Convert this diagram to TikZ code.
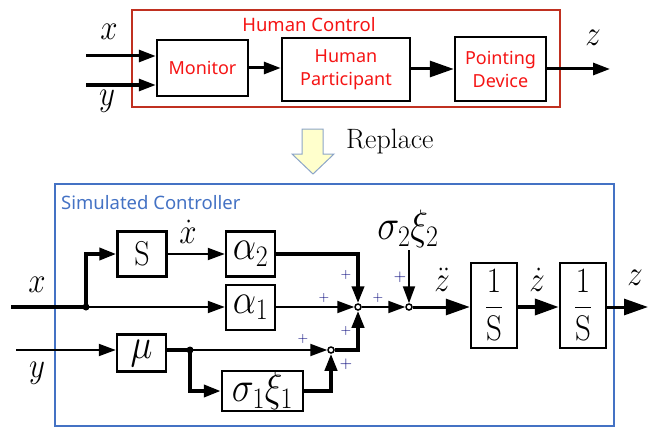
\RequirePackage{fix-cm}
\documentclass[tikz,border=0pt]{standalone}
\usepackage{fontspec}
\setsansfont{Noto Sans}
\usetikzlibrary{arrows.meta}
\definecolor{hred}{RGB}{192,48,32}
\definecolor{tred}{RGB}{245,20,20}
\definecolor{sblue}{RGB}{68,114,196}
\definecolor{pblue}{RGB}{0,0,120}
\definecolor{ayel}{RGB}{255,255,204}
\definecolor{aedge}{RGB}{140,165,200}
\newcommand{\mstretch}[1]{\scalebox{1}[1.15]{$#1$}}
\begin{document}
\begin{tikzpicture}[x=1pt,y=-1pt,
  box/.style={draw, line width=2.5pt, inner sep=0pt},
  tbox/.style={draw, line width=2.5pt, inner sep=0pt, text=tred, align=center,
    font=\sffamily\fontsize{18}{23}\selectfont},
  mbox/.style={box, font=\fontsize{37}{37}\selectfont},
  ln/.style={line width=2pt},
  lb/.style={line width=3.8pt},
  lm/.style={line width=3pt},
  arr/.style={-{Triangle[length=17pt,width=12pt]}},
  arrb/.style={-{Triangle[length=24pt,width=16pt]}},
  sumj/.style={circle, draw, fill=white, line width=1.5pt, inner sep=0pt, minimum size=6pt},
  dotj/.style={circle, fill, inner sep=0pt, minimum size=7pt},
  pl/.style={text=pblue, font=\fontsize{14}{14}\selectfont, inner sep=0pt},
  plb/.style={text=pblue, font=\fontsize{17}{17}\selectfont, inner sep=0pt},
  mlab/.style={font=\fontsize{31}{31}\selectfont, inner sep=0pt}
]
\useasboundingbox (0,0) rectangle (664,444);
% ---------- top: human control ----------
\node[draw=hred, line width=2pt, minimum width=428pt, minimum height=97pt, inner sep=0pt] (hc) at (346,58.5) {};
\node[text=tred, font=\sffamily\fontsize{18.5}{18.5}\selectfont, inner sep=0pt] (hct) at (309,25) {Human Control};
\node[tbox, minimum width=91pt, minimum height=56pt] (mon) at (202.5,68) {Monitor};
\node[tbox, minimum width=128pt, minimum height=63pt] (hp) at (346,69.5) {Human\\Participant};
\node[tbox, minimum width=91pt, minimum height=64pt] (pd) at (500.5,69) {Pointing\\Device};
\coordinate (xin) at (86,56);
\coordinate (yin) at (86,85);
\coordinate (zout) at (610,69);
\draw[lm, arr] (xin) -- (mon.west |- xin);
\draw[lm, arr] (yin) -- (mon.west |- yin);
\draw[lm, arr] (mon.east |- 0,68) -- (hp.west |- 0,68);
\draw[lm, arrb] (hp.east |- zout) -- (pd.west |- zout);
\draw[lm, arr] (pd.east |- zout) -- (zout);
\node[mlab] (lx) at (109,32) {\mstretch{x}};
\node[mlab] (ly) at (107,101) {\mstretch{y}};
\node[mlab] (lz) at (593,38) {\mstretch{z}};
% ---------- replace arrow ----------
\draw[fill=ayel, draw=aedge, line width=1pt] (302,129) -- (323,129) -- (323,154) -- (334,154) -- (313,174) -- (292,154) -- (302,154) -- cycle;
\node[font=\fontsize{28}{28}\selectfont, anchor=west, inner sep=0pt] (rep) at (346,142) {Replace};
% ---------- bottom: simulated controller ----------
\node[draw=sblue, line width=2pt, minimum width=559pt, minimum height=242pt, inner sep=0pt] (sc) at (334.5,305) {};
\node[text=sblue, font=\sffamily\fontsize{18.5}{18.5}\selectfont, anchor=west, inner sep=0pt] (sct) at (61,203) {Simulated Controller};
\node[box, font=\fontsize{30}{30}\selectfont, minimum width=49pt, minimum height=45pt] (S) at (142,254) {\mstretch{\mathrm{S}}};
\node[mbox, minimum width=49pt, minimum height=45pt] (a2) at (250.5,254) {\mstretch{\alpha_2}};
\node[mbox, minimum width=49pt, minimum height=45pt] (a1) at (250.5,307.5) {\mstretch{\alpha_1}};
\node[mbox, minimum width=49pt, minimum height=37pt] (mu) at (141.5,353) {\mstretch{\mu}};
\node[mbox, minimum width=81pt, minimum height=40pt] (sx1) at (262.5,391) {\mstretch{\sigma_1\xi_1}};
\node[box, font=\fontsize{31}{31}\selectfont, minimum width=46pt, minimum height=85pt] (i1) at (494,305.5) {\mstretch{\displaystyle\frac{1}{\mathrm{S}}}};
\node[box, font=\fontsize{31}{31}\selectfont, minimum width=46pt, minimum height=85pt] (i2) at (583,305.5) {\mstretch{\displaystyle\frac{1}{\mathrm{S}}}};
\node[dotj] (jx) at (86,307) {};
\node[dotj] (jm) at (190,350) {};
\node[sumj] (j1) at (358,307) {};
\node[sumj] (j2) at (331,350) {};
\node[sumj] (j3) at (409,307) {};
\coordinate (xs) at (11,307);
\coordinate (ys) at (16,350);
\coordinate (sg) at (409,250);
\coordinate (zo) at (648,307);
\draw[lb] (xs) -- (jx.center);
\draw[lb, arr] (jx.center) |- (S.west);
\draw[ln, arr] (jx.center) -- (a1.west |- jx);
\draw[ln, arr] (S) -- (a2);
\draw[lb, arr] (a2) -| (j1);
\draw[ln, arr] (a1.east |- j1) -- (j1);
\draw[ln, arr] (ys) -- (mu.west |- ys);
\draw[lb] (mu.east |- jm) -- (jm.center);
\draw[ln, arr] (jm.center) -- (j2);
\draw[lb, arr] (jm.center) |- (sx1.west);
\draw[lb, arr] (sx1) -| (j2);
\draw[lb, arr] (j2) -| (j1);
\draw[ln, arr] (j1) -- (j3);
\draw[ln, arr] (sg) -- (j3);
\draw[lm, arrb] (j3) -- (i1.west |- j3);
\draw[lb, arrb] (i1.east |- j3) -- (i2.west |- j3);
\draw[lm, arrb] (i2.east |- j3) -- (zo);
% labels
\node[mlab] (lx2) at (37,285) {\mstretch{x}};
\node[mlab] (ly2) at (37,373) {\mstretch{y}};
\node[mlab] (lxd) at (188,232) {\mstretch{\dot{x}}};
\node[font=\fontsize{37}{37}\selectfont, inner sep=0pt] (ls2) at (408,229) {\mstretch{\sigma_2\xi_2}};
\node[mlab] (lzdd) at (442,280) {\mstretch{\ddot{z}}};
\node[mlab] (lzd) at (537,280) {\mstretch{\dot{z}}};
\node[mlab] (lz2) at (635,278) {\mstretch{z}};
% plus signs
\node[pl] (p1) at (346,275) {$+$};
\node[pl] (p2) at (324,298) {$+$};
\node[pl] (p3) at (378,298) {$+$};
\node[plb] (p4) at (400,277) {$+$};
\node[pl] (p5) at (346,331) {$+$};
\node[pl] (p6) at (303,339) {$+$};
\node[plb] (p7) at (346,364) {$+$};
\end{tikzpicture}
\end{document}
